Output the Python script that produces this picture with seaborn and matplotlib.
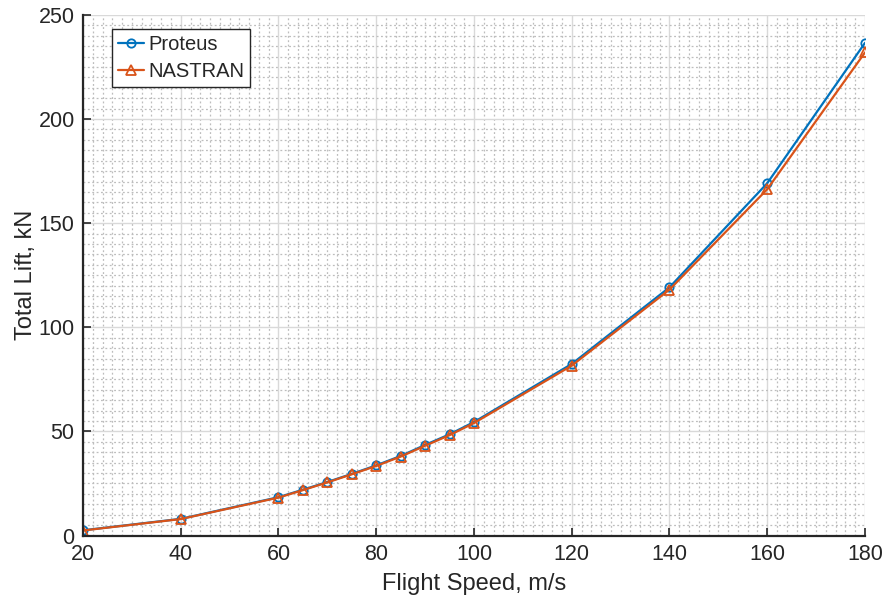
import numpy as np
import pandas as pd
import seaborn as sns
import matplotlib
matplotlib.use("Agg")
import matplotlib.pyplot as plt
from matplotlib.ticker import MultipleLocator

speed = [20, 40, 60, 65, 70, 75, 80, 85, 90, 95, 100, 120, 140, 160, 180]
proteus = [2.5, 8.0, 18.4, 22.0, 25.7, 29.6, 33.7, 38.2, 43.5, 48.6, 54.5, 82.4, 119.2, 169.2, 236.6]
nastran = [2.4, 7.9, 18.2, 21.8, 25.5, 29.4, 33.4, 37.9, 43.1, 48.2, 54.0, 81.6, 118.1, 166.3, 232.0]
series_names = ["Proteus", "NASTRAN"]
x_ticks = [20, 40, 60, 80, 100, 120, 140, 160, 180]
y_ticks = [0, 50, 100, 150, 200, 250]

sns.set_style("white")
plt.rcParams['font.family'] = ['Liberation Sans', 'DejaVu Sans']

fig = plt.figure(figsize=(8.83, 6.04), dpi=100)
ax = fig.add_axes([0.094, 0.1134, 0.8856, 0.8618])

df_p = pd.DataFrame({"speed": speed, "lift": proteus})
df_n = pd.DataFrame({"speed": speed, "lift": nastran})

blue = "#0072BD"
orange = "#D95319"
sns.lineplot(data=df_p, x="speed", y="lift", ax=ax, color=blue, marker="o",
             markersize=6, markerfacecolor="none", markeredgecolor=blue,
             markeredgewidth=1.3, linewidth=1.6, label=series_names[0], zorder=3)
sns.lineplot(data=df_n, x="speed", y="lift", ax=ax, color=orange, marker="^",
             markersize=7, markerfacecolor="none", markeredgecolor=orange,
             markeredgewidth=1.3, linewidth=1.6, label=series_names[1], zorder=4)

ax.set_xlim(20, 180)
ax.set_ylim(0, 250)
ax.set_xticks(x_ticks)
ax.set_yticks(y_ticks)
ax.xaxis.set_minor_locator(MultipleLocator(2))
ax.yaxis.set_minor_locator(MultipleLocator(5))
ax.grid(which="major", color="#d9d9d9", linewidth=1.0, linestyle="-")
ax.grid(which="minor", color="#bdbdbd", linewidth=0.9, linestyle=(0, (1.5, 2.0)))
ax.set_axisbelow(True)

for s in ["top", "right"]:
    ax.spines[s].set_visible(False)
for s in ["left", "bottom"]:
    ax.spines[s].set_color("#262626")
    ax.spines[s].set_linewidth(1.6)
    ax.spines[s].set_zorder(5)

ax.tick_params(which="major", direction="in", length=6, width=1.2, color="#262626",
               labelsize=15.5, labelcolor="#262626", left=True, bottom=True, pad=6)
ax.tick_params(which="minor", length=0)

ax.set_xlabel("Flight Speed, m/s", fontsize=17, color="#262626", labelpad=6)
ax.set_ylabel("Total Lift, kN", fontsize=17, color="#262626", labelpad=1)

leg = ax.legend(loc="upper left", bbox_to_anchor=(0.037, 0.973), borderaxespad=0,
                fontsize=14.5, frameon=True, fancybox=False, edgecolor="#262626",
                framealpha=1, handlelength=1.3, handletextpad=0.2,
                borderpad=0.3, labelspacing=0.4)
leg.get_frame().set_linewidth(1.0)

fig.savefig("out.png", dpi=100)
